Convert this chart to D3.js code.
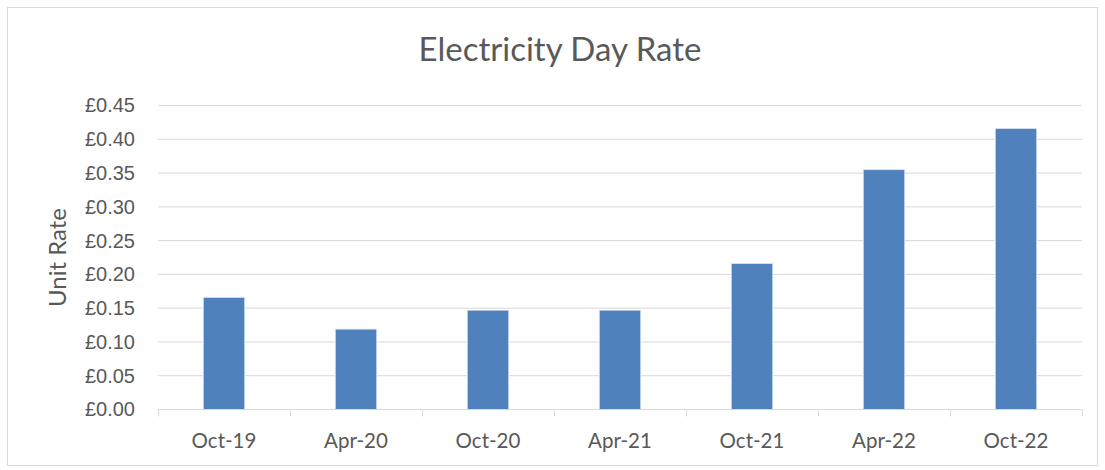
<!DOCTYPE html>
<html>
<head>
<meta charset="utf-8">
<script src="https://cdn.jsdelivr.net/npm/d3@7"></script>
<style>
  body { margin: 0; background: #fff; }
  svg { font-family: Lato, "Open Sans", sans-serif; }
</style>
</head>
<body>
<div id="chart"></div>
<script>
// Chart data
const categories = ['Oct-19', 'Apr-20', 'Oct-20', 'Apr-21', 'Oct-21', 'Apr-22', 'Oct-22'];
const unitRates = [0.166, 0.119, 0.147, 0.147, 0.216, 0.355, 0.416];
const yTicks = [0, 0.05, 0.10, 0.15, 0.20, 0.25, 0.30, 0.35, 0.40, 0.45];

const width = 1105, height = 470;
const margin = { top: 105.5, right: 23, bottom: 60.5, left: 158 };

const svg = d3.select('#chart')
    .append('svg')
    .attr('width', width)
    .attr('height', height);

// Chart border
svg.append('rect')
    .attr('x', 7.5)
    .attr('y', 7.5)
    .attr('width', width - 15)
    .attr('height', height - 12)
    .attr('fill', 'white')
    .attr('stroke', '#d9d9d9')
    .attr('stroke-width', 1);

const x = d3.scaleBand()
    .domain(categories)
    .range([margin.left, width - margin.right])
    .paddingInner(0.686)
    .paddingOuter(0.343);

const xBoundary = d3.scaleLinear()
    .domain([0, categories.length])
    .range([margin.left, width - margin.right]);

const y = d3.scaleLinear()
    .domain([0, 0.45])
    .range([height - margin.bottom, margin.top]);

// Gridlines
svg.append('g')
    .selectAll('line')
    .data(yTicks.slice(1))
    .join('line')
    .attr('x1', margin.left)
    .attr('x2', width - margin.right)
    .attr('y1', d => y(d))
    .attr('y2', d => y(d))
    .attr('stroke', '#d9d9d9')
    .attr('stroke-width', 1);

// Bars
svg.append('g')
    .selectAll('rect')
    .data(unitRates)
    .join('rect')
    .attr('x', (d, i) => x(categories[i]))
    .attr('y', d => y(d))
    .attr('width', x.bandwidth())
    .attr('height', d => y(0) - y(d))
    .attr('fill', '#4f81bd')
    .attr('stroke', '#dbe5f1')
    .attr('stroke-width', 0.8);

// Y axis labels
const yAxis = d3.axisLeft(y)
    .tickValues(yTicks)
    .tickSize(0)
    .tickPadding(23)
    .tickFormat(d => '£' + d3.format('.2f')(d));

svg.append('g')
    .attr('transform', `translate(${margin.left},0)`)
    .call(yAxis)
    .call(g => g.select('.domain').remove())
    .call(g => g.selectAll('text')
        .attr('fill', '#595959')
        .style('font-size', '20px'));

// X axis line with boundary ticks
const xAxis = svg.append('g');
xAxis.append('line')
    .attr('x1', margin.left)
    .attr('x2', width - margin.right)
    .attr('y1', y(0))
    .attr('y2', y(0))
    .attr('stroke', '#d9d9d9')
    .attr('stroke-width', 1);

xAxis.selectAll('.bound')
    .data(d3.range(categories.length + 1))
    .join('line')
    .attr('class', 'bound')
    .attr('x1', d => Math.round(xBoundary(d)) + 0.5)
    .attr('x2', d => Math.round(xBoundary(d)) + 0.5)
    .attr('y1', y(0))
    .attr('y2', y(0) + 7)
    .attr('stroke', '#d9d9d9')
    .attr('stroke-width', 1);

xAxis.selectAll('text')
    .data(categories)
    .join('text')
    .attr('x', d => x(d) + x.bandwidth() / 2)
    .attr('y', 448)
    .attr('text-anchor', 'middle')
    .attr('fill', '#595959')
    .style('font-size', '20.5px')
    .text(d => d);

// Title
svg.append('text')
    .attr('x', 560)
    .attr('y', 61)
    .attr('text-anchor', 'middle')
    .attr('fill', '#595959')
    .style('font-size', '33px')
    .text('Electricity Day Rate');

// Y axis title
svg.append('text')
    .attr('transform', `translate(66,${(margin.top + y(0)) / 2}) rotate(-90)`)
    .attr('text-anchor', 'middle')
    .attr('fill', '#595959')
    .style('font-size', '24px')
    .text('Unit Rate');
</script>
</body>
</html>
